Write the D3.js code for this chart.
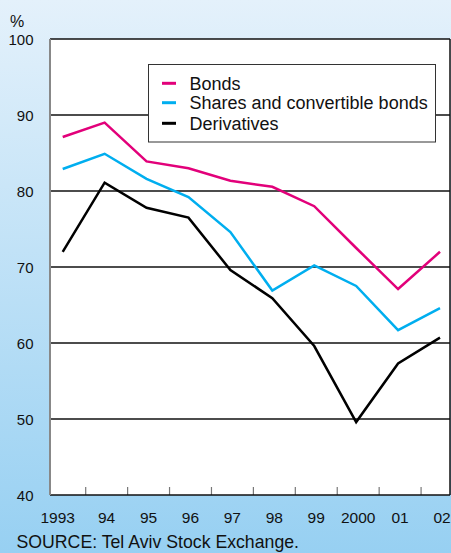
<!DOCTYPE html>
<html>
<head>
<meta charset="utf-8">
<script src="https://cdn.jsdelivr.net/npm/d3@7"></script>
<style>
html,body{margin:0;padding:0;}
svg{display:block;font-family:"Liberation Sans",Arial,sans-serif;}
</style>
</head>
<body>
<svg id="c" width="451" height="553"></svg>
<script>
const years = ["1993","1994","1995","1996","1997","1998","1999","2000","2001","2002"];
const yearLabels = ["1993","94","95","96","97","98","99","2000","01","02"];
const bonds = [87.1, 89.0, 83.9, 83.0, 81.35, 80.55, 78.0, 72.5, 67.1, 72.0];
const shares = [82.9, 84.9, 81.6, 79.2, 74.6, 66.9, 70.2, 67.5, 61.7, 64.6];
const derivatives = [72.0, 81.1, 77.8, 76.5, 69.6, 65.9, 59.6, 49.6, 57.3, 60.7];
const yTicks = [40, 50, 60, 70, 80, 90, 100];
const seriesNames = ["Bonds", "Shares and convertible bonds", "Derivatives"];
const seriesColors = ["#e2007a", "#00aeef", "#000000"];

const svg = d3.select("#c");
const defs = svg.append("defs");
const grad = defs.append("linearGradient").attr("id","bg").attr("x1",0).attr("y1",0).attr("x2",0).attr("y2",1);
grad.append("stop").attr("offset","0%").attr("stop-color","#e4f1fb");
grad.append("stop").attr("offset","100%").attr("stop-color","#97d0f2");
svg.append("rect").attr("width",451).attr("height",553).attr("fill","url(#bg)");

const L = 50, R = 450, T = 39, B = 495;
const x = d3.scalePoint().domain(years).range([62.7, 440]);
const y = d3.scaleLinear().domain([40, 100]).range([B, T]);

// plot area
svg.append("rect").attr("x",L).attr("y",T).attr("width",R-L).attr("height",B-T).attr("fill","#fff");

// gridlines
svg.append("g").selectAll("line").data(yTicks.filter(d=>d>40 && d<100)).join("line")
  .attr("x1",L).attr("x2",R).attr("y1",d=>y(d)).attr("y2",d=>y(d))
  .attr("stroke","#111").attr("stroke-width",1.5);

// x ticks (between years)
svg.append("g").selectAll("line").data(years.slice(0,-1)).join("line")
  .attr("x1",d=>x(d)+23).attr("x2",d=>x(d)+23).attr("y1",B).attr("y2",B-8)
  .attr("stroke","#777").attr("stroke-width",1.2);

// frame
svg.append("line").attr("x1",L).attr("x2",R).attr("y1",T).attr("y2",T).attr("stroke","#111").attr("stroke-width",1.5);
svg.append("line").attr("x1",R).attr("x2",R).attr("y1",T).attr("y2",B).attr("stroke","#111").attr("stroke-width",1.5);
svg.append("line").attr("x1",L).attr("x2",R).attr("y1",B).attr("y2",B).attr("stroke","#111").attr("stroke-width",1.5);
svg.append("line").attr("x1",L).attr("x2",L).attr("y1",T).attr("y2",B).attr("stroke","#888").attr("stroke-width",2);

// lines
const line = d3.line().x((d,i)=>x(years[i])).y(d=>y(d));
[bonds, shares, derivatives].forEach((s,i)=>{
  svg.append("path").datum(s).attr("d",line).attr("fill","none")
    .attr("stroke",seriesColors[i]).attr("stroke-width",2.5).attr("stroke-linejoin","miter");
});

// legend
const lg = svg.append("g");
lg.append("rect").attr("x",148.5).attr("y",64.5).attr("width",287).attr("height",77.5)
  .attr("fill","#fff").attr("stroke","#333").attr("stroke-width",1);
const legY = [83.3, 102.7, 123.3];
seriesNames.forEach((n,i)=>{
  lg.append("line").attr("x1",162).attr("x2",176).attr("y1",legY[i]).attr("y2",legY[i])
    .attr("stroke",seriesColors[i]).attr("stroke-width",3);
  lg.append("text").attr("x",189.5).attr("y",legY[i]+6.5).attr("font-size",18).attr("fill","#111").text(n);
});

// y labels
svg.append("g").selectAll("text").data(yTicks).join("text")
  .attr("x",33.5).attr("y",d=>y(d)+5.5).attr("text-anchor","end").attr("font-size",15).attr("fill","#111")
  .text(d=>d);
svg.append("text").attr("x",10).attr("y",26.5).attr("font-size",16).attr("fill","#111").text("%");

// x labels
svg.append("g").selectAll("text").data(years).join("text")
  .attr("x",(d,i)=>x(d)+(i===0?-5:2)).attr("y",523).attr("text-anchor","middle").attr("font-size",15.5).attr("fill","#111")
  .text((d,i)=>yearLabels[i]);

// source
svg.append("text").attr("x",16.5).attr("y",548.3).attr("font-size",17.7).attr("fill","#111").text("SOURCE: Tel Aviv Stock Exchange.");
</script>
</body>
</html>
